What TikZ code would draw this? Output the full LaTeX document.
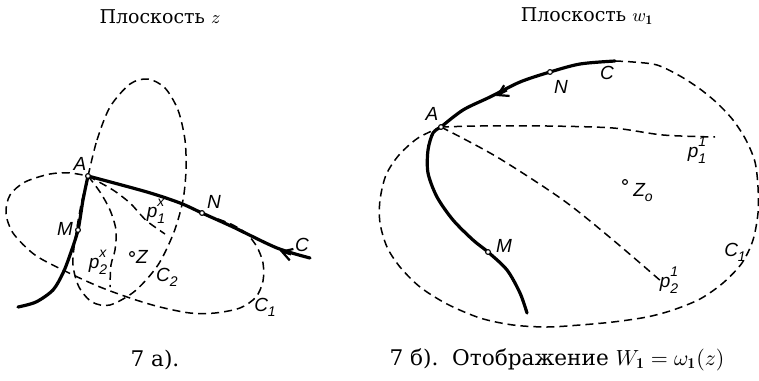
\documentclass[tikz,border=0pt]{standalone}
\usepackage{fontspec}
\newfontfamily\cyr{DejaVu Serif}
\newfontfamily\lab{Liberation Sans}
\usetikzlibrary{arrows.meta}
\newcommand\lsub[2]{#1\raisebox{-0.5ex}{\fontsize{7}{7}\selectfont #2}}
\newcommand\lsubsup[3]{#1\rlap{\raisebox{1.1ex}{\fontsize{7}{7}\selectfont #3}}\raisebox{-0.6ex}{\fontsize{7}{7}\selectfont #2}}
\begin{document}
\begin{tikzpicture}[x=0.5pt,y=-0.5pt,
  thickc/.style={line width=1.6pt, line cap=round},
  dsh/.style={dash pattern=on 4pt off 2.5pt, line width=0.75pt},
  pnt/.style={circle, draw, fill=white, inner sep=0pt, minimum size=2.4pt, line width=0.55pt},
  lbl/.style={font=\lab\itshape\fontsize{9.5}{9.5}\selectfont, inner sep=0pt},
  ttl/.style={font=\cyr\fontsize{9.5}{11}\selectfont, inner sep=0pt},
  captxt/.style={font=\cyr\fontsize{10.8}{12}\selectfont, inner sep=0pt},
  arrtip/.style={line width=1pt, -{Straight Barb[length=5pt,width=6pt,line width=1.1pt]}}
]
\useasboundingbox (0,0) rectangle (759,380);
% ---------- left panel ----------
\coordinate (A) at (88,176);
\coordinate (M) at (78,230);
\coordinate (N) at (202,213);
\coordinate (Ce) at (310,258);
\coordinate (Z) at (132,254);
\coordinate (a1s) at (291,254.5);
\coordinate (a1e) at (280,251);
\node[ttl] (t1) at (160,17) {Плоскость $z$};
\node[captxt] (c1) at (155,360) {7 а).};
% C1
\draw[dsh] plot[smooth] coordinates {(218,219) (233,225) (247,234) (257,247) (263,263) (263,281) (256,297) (240,308) (215,313) (190,313) (160,307) (133,299) (100,287) (67,272) (35,255) (13,233) (6,213) (10,195) (25,182) (50,174) (70,173) (A)};
% C2
\draw[dsh] plot[smooth cycle] coordinates {(A) (97,140) (110,107) (130,84) (148,79) (165,88) (178,110) (185,140) (186,170) (183,200) (174,232) (158,265) (135,291) (110,305) (92,302) (79,287) (73,265) (75,240) (81,205)};
% p1x, p2x
\draw[dsh] plot[smooth] coordinates {(A) (113,190) (130,203) (140,214) (148,222) (165,234)};
\draw[dsh] plot[smooth] coordinates {(A) (100,192) (110,210) (116,230) (115,250) (111,265) (110,287)};
% thick curves
\draw[thickc] plot[smooth] coordinates {(A) (83,200) (M) (70,255) (63,273) (53,290) (36,302) (18,307)};
\draw[thickc] plot[smooth] coordinates {(Ce) (277,248) (233,227) (N) (180,203) (147,192) (A)};
\draw[arrtip] (a1s) -- (a1e);
\node[pnt] (pA) at (A) {};
\node[pnt] (pM) at (M) {};
\node[pnt] (pN) at (N) {};
\node[pnt] (pZ) at (Z) {};
\node[lbl] (lA) at (80,164) {A};
\node[lbl] (lM) at (65,229) {M};
\node[lbl] (lN) at (214,202) {N};
\node[lbl] (lC) at (302,245) {C};
\node[lbl] (lp1) at (156,211) {\lsubsup{p}{1}{x}};
\node[lbl] (lp2) at (98,262) {\lsubsup{p}{2}{x}};
\node[lbl] (lZ) at (142,257) {Z};
\node[lbl] (lC2) at (167,277) {\lsub{C}{2}};
\node[lbl] (lC1) at (265,307) {\lsub{C}{1}};
% ---------- right panel ----------
\coordinate (A2) at (441,127);
\coordinate (M2) at (488,252);
\coordinate (N2) at (550,72);
\coordinate (Ct) at (615,61);
\coordinate (Z2) at (625,182);
\coordinate (a2s) at (507,90.5);
\coordinate (a2e) at (496,96);
\node[ttl] (t2) at (587,16) {Плоскость $w_{\mathbf 1}$};
\node[captxt] (c2) at (557,360) {7 б).\ \ Отображение $W_{\mathbf 1}=\omega_{\mathbf 1}(z)$};
\draw[dsh] plot[smooth] coordinates {(Ct) (633,62) (657,65) (680,76) (700,89) (717,103) (733,120) (746,140) (755,162) (758,187) (758,213) (753,240) (742,263) (723,283) (700,299) (673,310) (647,317) (613,322) (580,325) (547,327) (513,325) (480,318) (447,304) (420,287) (400,267) (387,247) (380,223) (380,200) (386,175) (399,155) (418,138) (A2)};
\draw[dsh] plot[smooth] coordinates {(A2) (480,126) (547,126) (613,128) (663,135) (715,137)};
\draw[dsh] plot[smooth] coordinates {(A2) (497,157) (563,200) (613,240) (662,282)};
\draw[thickc] plot[smooth] coordinates {(A2) (433,133) (428,150) (428,173) (437,197) (453,220) (473,240) (M2) (507,270) (520,293) (527,313)};
\draw[thickc] plot[smooth] coordinates {(Ct) (580,64) (N2) (520,82) (490,97) (463,110) (A2)};
\draw[arrtip] (a2s) -- (a2e);
\node[pnt] (qA) at (A2) {};
\node[pnt] (qM) at (M2) {};
\node[pnt] (qN) at (N2) {};
\node[pnt] (qZ) at (Z2) {};
\node[lbl] (mA) at (432,114) {A};
\node[lbl] (mN) at (561,87) {N};
\node[lbl] (mC) at (607,73) {C};
\node[lbl] (mM) at (504,246) {M};
\node[lbl] (mp1) at (697,150) {\lsubsup{p}{1}{1}};
\node[lbl] (mZ) at (643,193) {\lsub{Z}{o}};
\node[lbl] (mC1) at (735,252) {\lsub{C}{1}};
\node[lbl] (mp2) at (669,280) {\lsubsup{p}{2}{1}};
\end{tikzpicture}
\end{document}
